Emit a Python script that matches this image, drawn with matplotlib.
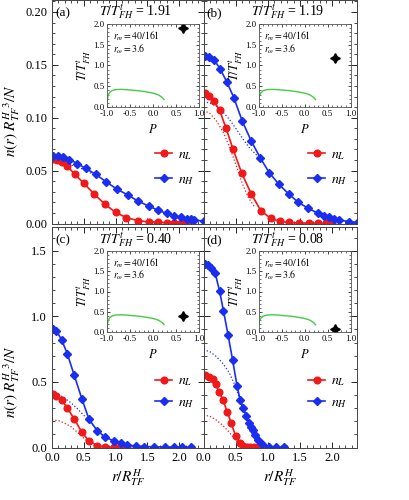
import matplotlib
matplotlib.use("Agg")
import matplotlib.pyplot as plt
from matplotlib.ticker import MultipleLocator

plt.rcParams['font.family'] = 'serif'
plt.rcParams['font.serif'] = ['Liberation Serif', 'DejaVu Serif']
plt.rcParams['mathtext.fontset'] = 'stix'

# panel titles and temperatures
labels = ['(a)', '(b)', '(c)', '(d)']
temps = [1.91, 1.19, 0.40, 0.08]
temp_text = ['1.91', '1.19', '0.40', '0.08']

# (a) T/T_FH = 1.91
r_L_a = [0.01, 0.08, 0.16, 0.24, 0.36, 0.50, 0.66, 0.83, 1.00, 1.17, 1.35, 1.52, 1.66, 1.80, 1.92, 2.03, 2.12, 2.18]
n_L_a = [0.061, 0.060, 0.0585, 0.054, 0.0465, 0.038, 0.028, 0.0183, 0.0105, 0.0055, 0.0027, 0.0015, 0.0012, 0.0009, 0.0007, 0.0005, 0.0004, 0.0003]
r_H_a = [0.01, 0.10, 0.18, 0.27, 0.40, 0.53, 0.69, 0.85, 1.02, 1.19, 1.35, 1.52, 1.66, 1.80, 1.92, 2.03, 2.12, 2.18, 2.23, 2.38]
n_H_a = [0.064, 0.0637, 0.063, 0.0605, 0.0567, 0.052, 0.0464, 0.0394, 0.0325, 0.027, 0.0212, 0.0165, 0.0127, 0.0096, 0.0073, 0.0058, 0.0045, 0.0039, 0.0033, 0.0023]
rd_L_a = [0.0, 0.1, 0.2, 0.3]
nd_L_a = [0.058, 0.0575, 0.0555, 0.051]
rd_H_a = [0.0, 0.1, 0.2, 0.3, 0.4, 0.5, 0.6, 0.7]
nd_H_a = [0.058, 0.0577, 0.0568, 0.0553, 0.0535, 0.051, 0.048, 0.0445]

# (b) T/T_FH = 1.19
r_L_b = [0.03, 0.08, 0.16, 0.25, 0.35, 0.46, 0.59, 0.74, 0.89, 1.04, 1.18, 1.33, 1.48, 1.63, 1.78, 1.90, 2.00]
n_L_b = [0.123, 0.121, 0.116, 0.107, 0.090, 0.070, 0.048, 0.028, 0.012, 0.005, 0.002, 0.001, 0.0005, 0.0003, 0.0002, 0.0002, 0.0001]
r_H_b = [0.03, 0.09, 0.16, 0.26, 0.36, 0.47, 0.60, 0.74, 0.88, 1.02, 1.17, 1.32, 1.47, 1.62, 1.77, 1.87, 1.95, 2.03, 2.10, 2.26, 2.38]
n_H_b = [0.158, 0.157, 0.155, 0.146, 0.134, 0.119, 0.097, 0.078, 0.062, 0.048, 0.037, 0.028, 0.020, 0.0145, 0.0098, 0.0073, 0.0058, 0.0043, 0.0033, 0.0018, 0.0008]
rd_L_b = [0.0, 0.1, 0.2, 0.3, 0.4, 0.5, 0.6, 0.7, 0.8]
nd_L_b = [0.107, 0.104, 0.097, 0.087, 0.073, 0.056, 0.038, 0.024, 0.015]
rd_H_b = [0.0, 0.1, 0.2, 0.3, 0.4, 0.5, 0.6, 0.7, 0.8, 0.9]
nd_H_b = [0.115, 0.114, 0.111, 0.1055, 0.0985, 0.090, 0.081, 0.0725, 0.066, 0.060]

# (c) T/T_FH = 0.40
r_L_c = [0.01, 0.07, 0.15, 0.24, 0.35, 0.47, 0.58, 0.71, 0.84, 0.97, 1.08, 1.18]
n_L_c = [0.409, 0.396, 0.363, 0.301, 0.217, 0.115, 0.051, 0.013, 0.005, 0.002, 0.001, 0.001]
r_H_c = [0.01, 0.07, 0.15, 0.24, 0.35, 0.47, 0.58, 0.71, 0.84, 0.97, 1.08, 1.18, 1.32, 1.45, 1.61, 1.77, 1.92, 2.05, 2.18]
n_H_c = [0.906, 0.888, 0.822, 0.715, 0.549, 0.370, 0.217, 0.128, 0.077, 0.051, 0.031, 0.018, 0.011, 0.007, 0.005, 0.004, 0.003, 0.002, 0.002]
rd_L_c = [0.0, 0.1, 0.2, 0.3, 0.4, 0.5, 0.6, 0.7]
nd_L_c = [0.21, 0.205, 0.185, 0.158, 0.115, 0.07, 0.03, 0.005]
rd_H_c = [0.0, 0.1, 0.2, 0.3, 0.4, 0.5, 0.6, 0.7, 0.8, 0.9]
nd_H_c = [0.42, 0.405, 0.375, 0.34, 0.295, 0.245, 0.195, 0.14, 0.09, 0.05]

# (d) T/T_FH = 0.08
r_L_d = [0.03, 0.08, 0.14, 0.19, 0.24, 0.30, 0.37, 0.43, 0.50, 0.56, 0.61, 0.67, 0.72, 0.78, 0.85, 0.90]
n_L_d = [0.553, 0.540, 0.520, 0.484, 0.425, 0.362, 0.272, 0.184, 0.086, 0.031, 0.010, 0.004, 0.002, 0.001, 0.001, 0.001]
r_H_d = [0.02, 0.07, 0.12, 0.18, 0.25, 0.31, 0.38, 0.45, 0.52, 0.57, 0.62, 0.66, 0.70, 0.73, 0.76, 0.80, 0.85, 0.90, 1.02, 1.13, 1.25]
n_H_d = [1.40, 1.39, 1.37, 1.33, 1.19, 1.04, 0.86, 0.67, 0.47, 0.36, 0.30, 0.24, 0.19, 0.16, 0.135, 0.095, 0.055, 0.025, 0.006, 0.003, 0.002]
rd_L_d = [0.0, 0.1, 0.2, 0.3, 0.4, 0.5, 0.55, 0.62]
nd_L_d = [0.247, 0.238, 0.209, 0.168, 0.115, 0.055, 0.028, 0.0]
rd_H_d = [0.0, 0.1, 0.2, 0.3, 0.4, 0.5, 0.56, 0.64, 0.72, 0.80, 0.88]
nd_H_d = [0.744, 0.73, 0.693, 0.64, 0.57, 0.46, 0.37, 0.25, 0.14, 0.06, 0.012]

# inset: phase boundary
P_line = [-1.0, -0.98, -0.95, -0.9, -0.85, -0.8, -0.7, -0.6, -0.5, -0.4, -0.3, -0.2, -0.1, 0.0, 0.1, 0.15, 0.2, 0.24]
T_line = [0.12, 0.26, 0.34, 0.39, 0.41, 0.42, 0.425, 0.42, 0.41, 0.40, 0.39, 0.375, 0.355, 0.335, 0.30, 0.27, 0.23, 0.18]
P_point = 0.66

data = [
    (r_L_a, n_L_a, r_H_a, n_H_a, rd_L_a, nd_L_a, rd_H_a, nd_H_a),
    (r_L_b, n_L_b, r_H_b, n_H_b, rd_L_b, nd_L_b, rd_H_b, nd_H_b),
    (r_L_c, n_L_c, r_H_c, n_H_c, rd_L_c, nd_L_c, rd_H_c, nd_H_c),
    (r_L_d, n_L_d, r_H_d, n_H_d, rd_L_d, nd_L_d, rd_H_d, nd_H_d),
]

red = '#f01818'
blue = '#1a2ef0'

W, H = 409, 500
fig = plt.figure(figsize=(W / 100, H / 100), dpi=100)

# axes boxes in pixels: left, top, width, height
boxes = [(52, 0, 151.5, 223.5), (203.5, 0, 153.5, 223.5),
         (52, 227, 151.5, 220.5), (203.5, 227, 153.5, 220.5)]

for i in range(4):
    x0, y0, w, h = boxes[i]
    ax = fig.add_axes([x0 / W, 1 - (y0 + h) / H, w / W, h / H])
    rL, nL, rH, nH, rdL, ndL, rdH, ndH = data[i]
    ax.plot(rdL, ndL, ':', color=red, lw=0.9)
    ax.plot(rdH, ndH, ':', color=blue, lw=0.9)
    ax.plot(rL, nL, '-o', color=red, lw=1.2, ms=4.8, label='$n_L$')
    ax.plot(rH, nH, '-D', color=blue, lw=1.2, ms=4.3, label='$n_H$')
    ax.set_xlim(0, 2.38)
    ax.xaxis.set_major_locator(MultipleLocator(0.5))
    ax.xaxis.set_minor_locator(MultipleLocator(0.1))
    if i < 2:
        ax.set_ylim(0, 0.2113)
        ax.yaxis.set_major_locator(MultipleLocator(0.05))
        ax.yaxis.set_minor_locator(MultipleLocator(0.01))
        ax.yaxis.set_major_formatter(plt.FormatStrFormatter('%.2f'))
        ax.set_xticklabels([])
    else:
        ax.set_ylim(0, 1.68)
        ax.yaxis.set_major_locator(MultipleLocator(0.5))
        ax.yaxis.set_minor_locator(MultipleLocator(0.1))
        ax.yaxis.set_major_formatter(plt.FormatStrFormatter('%.1f'))
        ax.xaxis.set_major_formatter(plt.FormatStrFormatter('%.1f'))
        ax.set_xlabel(r'$r/R_{TF}^{H}$', fontsize=11, labelpad=2)
    if i % 2 == 1:
        ax.set_yticklabels([])
    else:
        ax.set_ylabel(r'$n(r)\;{R_{TF}^{H}}^{3}/N$', fontsize=11)
        if i == 0:
            ax.yaxis.set_label_coords(-0.2, 0.46)
        else:
            ax.yaxis.set_label_coords(-0.2, 0.30)
    ax.tick_params(which='both', direction='in', top=True, right=True, labelsize=9)
    ax.tick_params(which='major', length=4, width=0.6)
    ax.tick_params(which='minor', length=2, width=0.5)
    for s in ax.spines.values():
        s.set_linewidth(0.7)
        s.set_color('#444444')
    ax.text(0.02, 1 - 16 / h, labels[i], transform=ax.transAxes, fontsize=9.5,
            va='baseline', ha='left')
    ax.text(0.55, 1 - 16 / h, r'$T/T_{FH}^{t}$ = ' + temp_text[i], transform=ax.transAxes,
            fontsize=10, va='baseline', ha='center')
    if i < 2:
        leg_c, spacing = 167.5, 0.8
    else:
        leg_c, spacing = 392, 0.55
    ax.legend(loc='center left', bbox_to_anchor=(0.68, 1 - (leg_c - y0) / h), frameon=False,
              fontsize=10, handlelength=1.25, numpoints=1, labelspacing=spacing,
              handletextpad=0.4, borderaxespad=0, borderpad=0)

    # inset with the phase diagram
    ih = 83 if i < 2 else 81
    iax = fig.add_axes([(x0 + 55) / W, 1 - (y0 + 24 + ih) / H, 92 / W, ih / H])
    iax.patch.set_alpha(0)
    iax.plot(P_line, T_line, color='#44cc44', lw=1.0)
    iax.plot([P_point], [temps[i]], marker=(4, 1, 0), color='black', ms=7, ls='none')
    iax.set_xlim(-1, 1)
    iax.set_ylim(0, 2)
    iax.xaxis.set_major_locator(MultipleLocator(0.5))
    iax.xaxis.set_minor_locator(MultipleLocator(0.1))
    iax.yaxis.set_major_locator(MultipleLocator(0.5))
    iax.yaxis.set_minor_locator(MultipleLocator(0.1))
    iax.xaxis.set_major_formatter(plt.FormatStrFormatter('%.1f'))
    iax.yaxis.set_major_formatter(plt.FormatStrFormatter('%.1f'))
    iax.tick_params(which='both', direction='in', top=True, right=True, labelsize=6.3, pad=1.5)
    iax.tick_params(axis='x', which='major', pad=2.5)
    iax.tick_params(which='major', length=2.5, width=0.5)
    iax.tick_params(which='minor', length=1.2, width=0.4)
    for s in iax.spines.values():
        s.set_linewidth(0.6)
        s.set_color('#555555')
    iax.set_xlabel('$P$', fontsize=9, labelpad=3)
    iax.set_ylabel(r'$T/T_{FH}^{t}$', fontsize=9, labelpad=1)
    iax.text(0.06, 0.93, r'$r_m = 40/161$', transform=iax.transAxes, fontsize=7,
             va='top', ha='left')
    iax.text(0.06, 0.78, r'$r_\omega = 3.6$', transform=iax.transAxes, fontsize=7,
             va='top', ha='left')

fig.savefig('out.png', dpi=100)
